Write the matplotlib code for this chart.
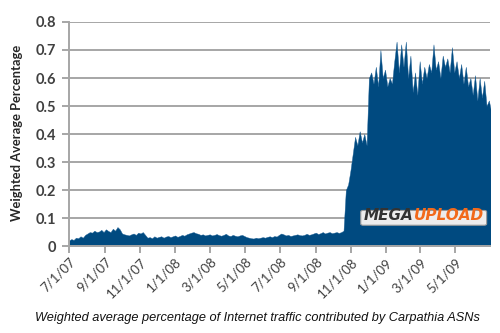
import matplotlib
matplotlib.use("Agg")
import matplotlib.pyplot as plt
import matplotlib.dates as mdates
from matplotlib.patches import FancyBboxPatch
import pandas as pd

# Weighted average share of traffic, sampled every 4 days from 7/1/07
start_date = "2007-07-01"
end_date = "2009-06-30"
step_days = 4
share = [
    0.020, 0.025, 0.022, 0.030, 0.028, 0.035, 0.030, 0.040, 0.045, 0.050,
    0.048, 0.055, 0.050, 0.052, 0.058, 0.050, 0.060, 0.054, 0.050, 0.062,
    0.055, 0.068, 0.060, 0.045, 0.042, 0.040, 0.038, 0.042, 0.045, 0.040,
    0.048, 0.045, 0.050, 0.040, 0.030, 0.032, 0.028, 0.035, 0.030, 0.033,
    0.035, 0.030, 0.034, 0.036, 0.032, 0.035, 0.038, 0.033, 0.036, 0.040,
    0.037, 0.042, 0.045, 0.048, 0.050, 0.046, 0.044, 0.040, 0.042, 0.038,
    0.040, 0.042, 0.038, 0.040, 0.043, 0.039, 0.037, 0.040, 0.044, 0.038,
    0.036, 0.040, 0.037, 0.035, 0.038, 0.040, 0.036, 0.032, 0.030, 0.028,
    0.027, 0.030, 0.028, 0.030, 0.032, 0.030, 0.033, 0.035, 0.032, 0.036,
    0.034, 0.040, 0.045, 0.042, 0.038, 0.040, 0.036, 0.038, 0.040, 0.042,
    0.039, 0.038, 0.040, 0.044, 0.040, 0.042, 0.045, 0.048, 0.043, 0.046,
    0.050, 0.045, 0.048, 0.050, 0.046, 0.048, 0.050, 0.047, 0.050, 0.055,
    0.200, 0.220, 0.270, 0.330, 0.390, 0.360, 0.410, 0.370, 0.400, 0.360,
    0.600, 0.620, 0.580, 0.640, 0.570, 0.700, 0.600, 0.630, 0.570, 0.600,
    0.580, 0.660, 0.730, 0.620, 0.720, 0.640, 0.730, 0.600, 0.680, 0.550,
    0.620, 0.540, 0.660, 0.580, 0.640, 0.600, 0.650, 0.620, 0.720, 0.630,
    0.660, 0.600, 0.680, 0.640, 0.670, 0.620, 0.710, 0.620, 0.660, 0.600,
    0.650, 0.580, 0.640, 0.570, 0.600, 0.540, 0.610, 0.520, 0.600, 0.530,
    0.590, 0.500, 0.520, 0.480,
]
yticks = [0, 0.1, 0.2, 0.3, 0.4, 0.5, 0.6, 0.7, 0.8]
ylabel = "Weighted Average Percentage"
caption = "Weighted average percentage of Internet traffic contributed by Carpathia ASNs"

dates = pd.date_range(start_date, periods=len(share), freq=f"{step_days}D")

fig = plt.figure(figsize=(5, 3.33), dpi=100)
ax = fig.add_axes([0.138, 0.261, 0.842, 0.673])

ax.fill_between(dates, share, 0, color="#004A80", linewidth=0.3,
                edgecolor="#1a5e94", zorder=3)

grey = "#A6A6A6"
ax.set_ylim(0, 0.8)
ax.set_yticks(yticks)
ax.set_yticklabels(["0" if v == 0 else f"{v:.1f}" for v in yticks])
ax.grid(axis="y", color=grey, linewidth=1.4, zorder=1)
ax.set_xlim(pd.Timestamp(start_date), pd.Timestamp(end_date))


def date_label(v, pos):
    d = mdates.num2date(v)
    return f"{d.month}/{d.day}/{d:%y}"


ax.xaxis.set_major_locator(mdates.MonthLocator(bymonth=[1, 3, 5, 7, 9, 11]))
ax.xaxis.set_major_formatter(plt.FuncFormatter(date_label))

for s in ["top", "right"]:
    ax.spines[s].set_visible(False)
for s in ["left", "bottom"]:
    ax.spines[s].set_color(grey)
    ax.spines[s].set_linewidth(1.4)
    ax.spines[s].set_zorder(4)

ax.tick_params(axis="y", length=5, width=1.4, color=grey, pad=4,
               labelsize=10.5, labelcolor="#404040")
ax.tick_params(axis="x", length=5, width=1.4, color=grey, pad=2,
               labelsize=9.5, labelcolor="#404040")
for lab in ax.get_yticklabels():
    lab.set_fontfamily("Lato")
    lab.set_fontweight("bold")
for lab in ax.get_xticklabels():
    lab.set_fontfamily("Lato")
    lab.set_rotation(45)
    lab.set_ha("right")
    lab.set_va("top")
    lab.set_rotation_mode("anchor")

fig.text(0.034, 0.6, ylabel, rotation=90, ha="center", va="center",
         fontsize=9.3, fontweight="bold", family="Lato", color="#262626")
fig.text(0.515, 0.045, caption, ha="center", va="center", fontsize=9.2,
         style="italic", family="Liberation Sans", color="#111111")

# logo in the lower right of the plot
box = FancyBboxPatch((0.695, 0.095), 0.295, 0.062, transform=ax.transAxes,
                     boxstyle="round,pad=0.002,rounding_size=0.006",
                     facecolor="#EDEDED", edgecolor="#9A9A9A", linewidth=0.8,
                     zorder=5)
ax.add_patch(box)
logo_font = dict(fontsize=11, fontweight="heavy", style="italic",
                 family="DejaVu Sans", va="bottom", zorder=6)
t1 = ax.text(0.701, 0.103, "MEGA", color="#333333", ha="left",
             transform=ax.transAxes, **logo_font)
ax.annotate("UPLOAD", xy=(1, 0), xycoords=t1, ha="left", color="#F26A1B",
            annotation_clip=False, **logo_font)

fig.savefig("out.png", dpi=100)
